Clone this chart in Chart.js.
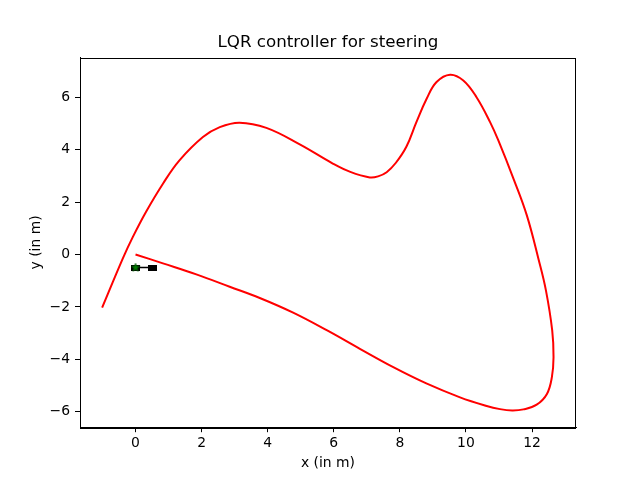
<!DOCTYPE html>
<html><head><meta charset="utf-8">
<script src="https://cdn.jsdelivr.net/npm/chart.js@4"></script>
<style>html,body{margin:0;padding:0;background:#fff}</style>
</head><body>
<canvas id="c" width="640" height="480" style="width:640px;height:480px;display:block"></canvas>
<script>
const pathX = [0, 0.83, 1.84, 2.85, 3.76, 4.77, 5.8, 6.79, 7.8, 8.8, 9.82, 10.6, 11.03, 11.4, 11.74, 12.14, 12.45, 12.6, 12.65, 12.61, 12.42, 12.2, 11.84, 11.46, 10.98, 10.73, 10.32, 9.92, 9.52, 9.11, 8.81, 8.5, 8.2, 7.88, 7.6, 7.34, 7.09, 6.5, 5.97, 4.97, 3.96, 3.15, 2.55, 2.04, 1.33, 0.83, 0.32, -0.08, -0.38, -1.01];
const pathY = [0, -0.34, -0.76, -1.23, -1.66, -2.22, -2.9, -3.6, -4.3, -4.92, -5.45, -5.77, -5.9, -5.95, -5.91, -5.73, -5.32, -4.68, -3.92, -2.9, -1.37, -0.2, 1.5, 2.82, 4.35, 5.05, 6.0, 6.64, 6.86, 6.58, 5.94, 5.05, 4.12, 3.5, 3.14, 2.98, 2.94, 3.15, 3.47, 4.2, 4.83, 5.03, 4.86, 4.48, 3.59, 2.7, 1.63, 0.67, -0.14, -2.03];
const wheelX = [0, 0.5];
const wheelY = [-0.5, -0.5];
const starX = [0];
const starY = [-0.5];
const xTicks = [0, 2, 4, 6, 8, 10, 12];
const yTicks = [-6, -4, -2, 0, 2, 4, 6];
const xLabel = 'x (in m)';
const yLabel = 'y (in m)';
const titleText = 'LQR controller for steering';

function zip(a, b) { return a.map((v, i) => ({x: v, y: b[i]})); }

function rectImg(w, h) {
  const c = document.createElement('canvas'); c.width = w; c.height = h;
  const g = c.getContext('2d'); g.fillStyle = '#000'; g.fillRect(0, 0, w, h);
  return c;
}
function starImg(s) {
  const c = document.createElement('canvas'); c.width = s; c.height = s;
  const g = c.getContext('2d');
  const cx = s / 2, cy = s / 2, R = s / 2 - 0.5, r = R * 0.4;
  g.beginPath();
  for (let i = 0; i < 10; i++) {
    const ang = -Math.PI / 2 + i * Math.PI / 5;
    const rad = i % 2 ? r : R;
    g.lineTo(cx + rad * Math.cos(ang), cy + rad * Math.sin(ang));
  }
  g.closePath(); g.fillStyle = '#008000'; g.fill();
  g.strokeStyle = '#005000'; g.lineWidth = 0.6; g.stroke();
  return c;
}

const fontFam = '"DejaVu Sans", sans-serif';
const minus = v => (v < 0 ? '\u2212' + Math.abs(v) : String(v));

const frame = {
  id: 'frame',
  afterDatasetsDraw(chart) {
    const a = chart.chartArea, ctx = chart.ctx;
    ctx.save(); ctx.strokeStyle = '#000'; ctx.lineWidth = 1;
    ctx.strokeRect(Math.round(a.left) + 0.5, Math.round(a.top) + 0.5, Math.round(a.right - a.left) - 1, Math.round(a.bottom - a.top));
    ctx.restore();
  }
};

new Chart(document.getElementById('c'), {
  type: 'scatter',
  data: {
    datasets: [
      { data: zip(pathX, pathY), showLine: true, borderColor: '#ff0000', borderWidth: 2, pointRadius: 0, tension: 0.4, order: 3 },
      { data: zip(wheelX, wheelY), showLine: true, borderColor: '#000', borderWidth: 1.5, pointRadius: 0, order: 2 },
      { data: zip(wheelX, wheelY), showLine: false, pointStyle: rectImg(9, 6), pointRadius: 5, order: 1 },
      { data: zip(starX, starY), showLine: false, pointStyle: starImg(10), pointRadius: 5, order: 0 }
    ]
  },
  options: {
    responsive: false,
    animation: false,
    devicePixelRatio: 1,
    layout: { padding: { left: 16, right: 0, top: 0, bottom: 0 } },
    plugins: {
      legend: { display: false },
      tooltip: { enabled: false },
      title: { display: true, text: titleText, color: '#000', font: { family: fontFam, size: 16.7, weight: 'normal' }, padding: { top: 33, bottom: 4.6 } }
    },
    scales: {
      x: {
        type: 'linear', min: -1.68, max: 13.33,
        afterBuildTicks: s => { s.ticks = xTicks.map(v => ({value: v})); },
        afterFit: s => { s.height = 52.8; },
        grid: { display: true, drawOnChartArea: false, drawTicks: true, tickLength: 5, tickColor: '#000', tickWidth: 1 },
        border: { display: true, color: '#000', width: 1 },
        ticks: { color: '#000', font: { family: fontFam, size: 13.9 }, padding: 3, maxRotation: 0, callback: minus },
        title: { display: true, text: xLabel, color: '#000', font: { family: fontFam, size: 13.9 }, padding: { top: 0, bottom: 8.4 } }
      },
      y: {
        type: 'linear', position: 'left', min: -6.59, max: 7.51,
        afterBuildTicks: s => { s.ticks = yTicks.map(v => ({value: v})); },
        afterFit: s => { s.width = 64; },
        grid: { display: true, drawOnChartArea: false, drawTicks: true, tickLength: 5, tickColor: '#000', tickWidth: 1 },
        border: { display: true, color: '#000', width: 1 },
        ticks: { color: '#000', font: { family: fontFam, size: 13.9 }, padding: 5, callback: minus },
        title: { display: true, text: yLabel, color: '#000', font: { family: fontFam, size: 13.9 }, padding: { top: 11.7, bottom: 0 } }
      },
      y2: {
        type: 'linear', position: 'right', min: -6.59, max: 7.51,
        afterFit: s => { s.width = 64; },
        grid: { display: false },
        border: { display: false },
        ticks: { display: false }
      }
    }
  },
  plugins: [frame]
});
</script>
</body></html>
